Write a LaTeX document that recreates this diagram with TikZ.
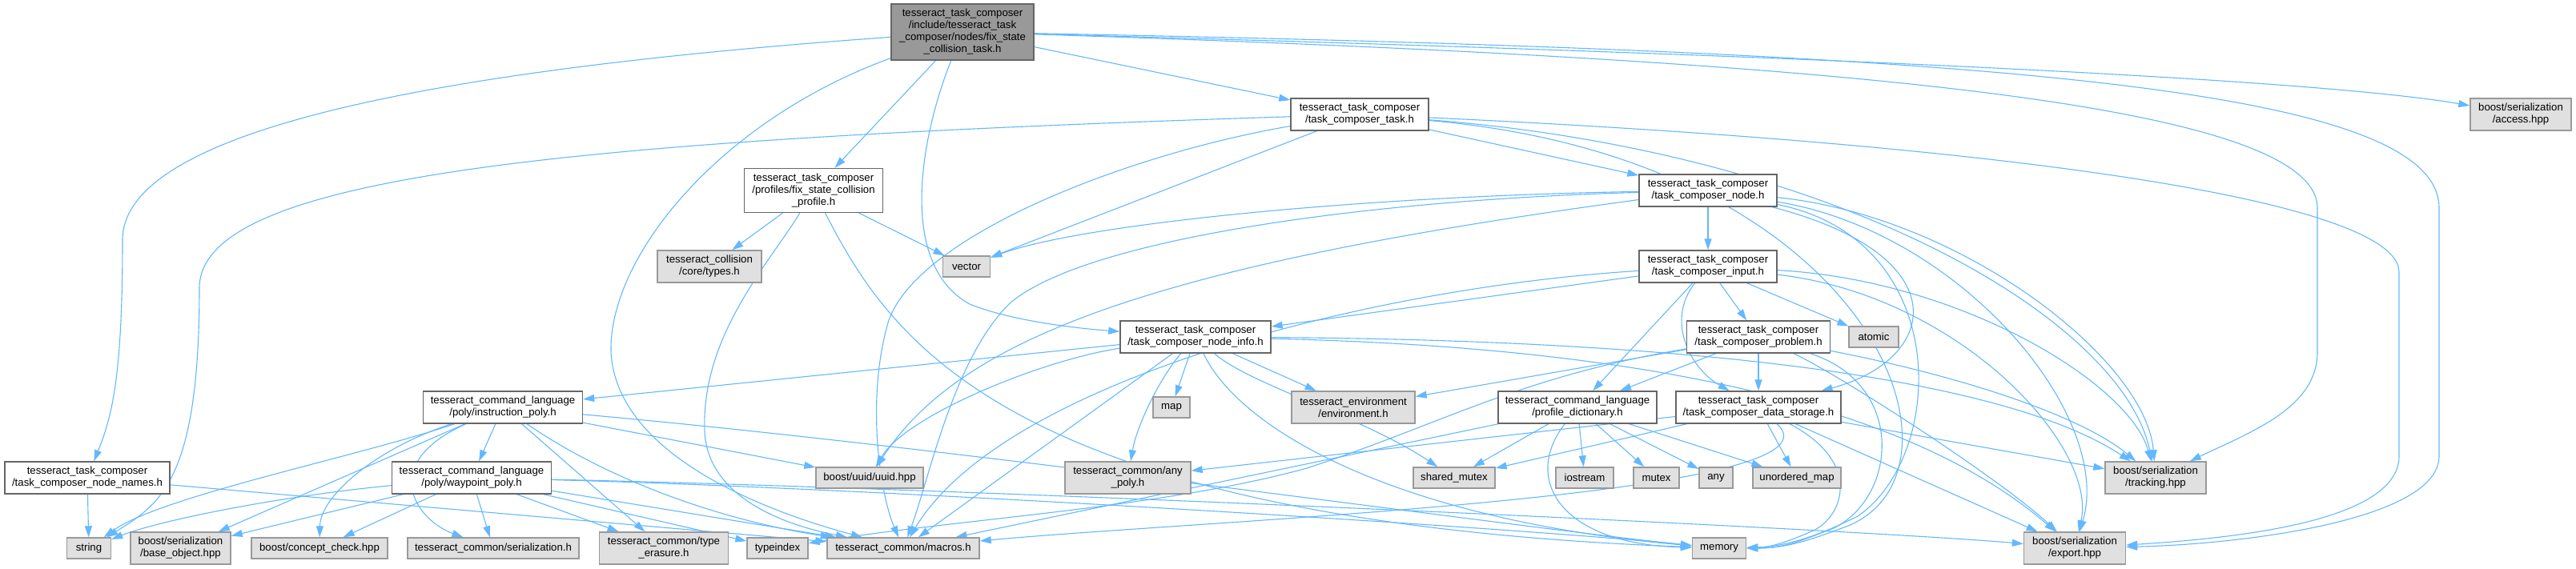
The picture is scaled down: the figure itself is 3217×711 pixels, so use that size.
\documentclass[tikz,border=0pt]{standalone}
\usepackage{fontspec}
\setmainfont{Liberation Sans}
\usetikzlibrary{arrows.meta,backgrounds}
\definecolor{edgec}{HTML}{63B8FF}
\definecolor{wborder}{HTML}{666666}
\definecolor{gfill}{HTML}{E0E0E0}
\definecolor{gborder}{HTML}{999999}
\definecolor{mfill}{HTML}{999999}
\tikzset{
  basebox/.style={rectangle, inner sep=0pt, align=center, line width=1.4pt,
    font=\fontsize{13.2}{15}\selectfont},
  wbox/.style={basebox, draw=wborder, fill=white},
  gbox/.style={basebox, draw=gborder, fill=gfill},
  mbox/.style={basebox, draw=wborder, fill=mfill},
  dep/.style={draw=edgec, line width=1.1pt, -{Triangle[length=14pt,width=9pt]}},
}
\newcommand{\us}{\_}
\begin{document}
\begin{tikzpicture}[x=1pt,y=-1pt]
\useasboundingbox (0,0) rectangle (3217,711);
% nodes
\node[mbox, minimum width=178, minimum height=70] (M) at (1202,40) {tesseract\us task\us composer\\/include/tesseract\us task\\\us composer/nodes/fix\us state\\\us collision\us task.h};
\node[wbox, minimum width=172, minimum height=40] (TCT) at (1698,143) {tesseract\us task\us composer\\/task\us composer\us task.h};
\node[wbox, minimum width=172, minimum height=40] (TCN) at (2133,238) {tesseract\us task\us composer\\/task\us composer\us node.h};
\node[wbox, minimum width=172, minimum height=40] (TCI) at (2133,333) {tesseract\us task\us composer\\/task\us composer\us input.h};
\node[wbox, minimum width=173, minimum height=55] (FSP) at (1016,238) {tesseract\us task\us composer\\/profiles/fix\us state\us collision\\\us profile.h};
\node[gbox, minimum width=130, minimum height=40] (CT) at (886,333) {tesseract\us collision\\/core/types.h};
\node[gbox, minimum width=59, minimum height=26] (VEC) at (1207,333) {vector};
\node[gbox, minimum width=126, minimum height=40] (ACC) at (3148,143) {boost/serialization\\/access.hpp};
\node[wbox, minimum width=206, minimum height=40] (TNN) at (109,597) {tesseract\us task\us composer\\/task\us composer\us node\us names.h};
\node[wbox, minimum width=199, minimum height=40] (IP) at (628,509) {tesseract\us command\us language\\/poly/instruction\us poly.h};
\node[wbox, minimum width=199, minimum height=40] (WP) at (589,597) {tesseract\us command\us language\\/poly/waypoint\us poly.h};
\node[gbox, minimum width=55, minimum height=26] (STR) at (111,685) {string};
\node[gbox, minimum width=125, minimum height=40] (BO) at (225.5,685) {boost/serialization\\/base\us object.hpp};
\node[gbox, minimum width=170, minimum height=26] (CC) at (399,685) {boost/concept\us check.hpp};
\node[gbox, minimum width=214, minimum height=26] (SER) at (616,685) {tesseract\us common/serialization.h};
\node[gbox, minimum width=161, minimum height=40] (TE) at (829,685) {tesseract\us common/type\\\us erasure.h};
\node[gbox, minimum width=76, minimum height=26] (TI) at (971,685) {typeindex};
\node[gbox, minimum width=190, minimum height=26] (MAC) at (1128,685) {tesseract\us common/macros.h};
\node[gbox, minimum width=134, minimum height=26] (UUID) at (1086,597) {boost/uuid/uuid.hpp};
\node[wbox, minimum width=188, minimum height=40] (TNI) at (1493,421) {tesseract\us task\us composer\\/task\us composer\us node\us info.h};
\node[gbox, minimum width=46, minimum height=26] (MAP) at (1463,509) {map};
\node[gbox, minimum width=154, minimum height=40] (ENV) at (1690,509) {tesseract\us environment\\/environment.h};
\node[gbox, minimum width=157, minimum height=40] (ANY) at (1408.5,597) {tesseract\us common/any\\\us poly.h};
\node[gbox, minimum width=102, minimum height=26] (SM) at (1816,597) {shared\us mutex};
\node[gbox, minimum width=72, minimum height=26] (IOS) at (1979,597) {iostream};
\node[gbox, minimum width=57, minimum height=26] (MTX) at (2068.5,597) {mutex};
\node[gbox, minimum width=42, minimum height=26] (ANYS) at (2143,597) {any};
\node[gbox, minimum width=110, minimum height=26] (UM) at (2244,597) {unordered\us map};
\node[wbox, minimum width=198, minimum height=40] (PD) at (1970,509) {tesseract\us command\us language\\/profile\us dictionary.h};
\node[wbox, minimum width=179, minimum height=40] (TCP) at (2196,421) {tesseract\us task\us composer\\/task\us composer\us problem.h};
\node[gbox, minimum width=62, minimum height=26] (ATM) at (2340,421) {atomic};
\node[wbox, minimum width=206, minimum height=40] (TDS) at (2196,509) {tesseract\us task\us composer\\/task\us composer\us data\us storage.h};
\node[gbox, minimum width=67, minimum height=26] (MEM) at (2147,685) {memory};
\node[gbox, minimum width=127, minimum height=40] (EXP) at (2591,685) {boost/serialization\\/export.hpp};
\node[gbox, minimum width=126, minimum height=40] (TRK) at (2692,597) {boost/serialization\\/tracking.hpp};
\begin{scope}[on background layer]
% edges from main
\draw[dep] (M) -- (FSP);
\draw[dep] (M) -- (TCT);
\draw[dep] (M) .. controls (500,90) and (153,170) .. (153,300) .. controls (153,470) and (140,520) .. (TNN);
\draw[dep] (M) .. controls (1150,170) and (1120,330) .. (1211,380) .. controls (1260,400) and (1340,410) .. (TNI);
\draw[dep] (M) .. controls (2300,70) and (2900,100) .. (ACC);
\draw[dep] (M) .. controls (2300,75) and (2894,130) .. (2894,260) -- (2894,440) .. controls (2894,510) and (2810,540) .. (TRK);
\draw[dep] (M) .. controls (2500,65) and (3046,110) .. (3046,260) -- (3046,570) .. controls (3046,650) and (2800,680) .. (EXP);
\draw[dep] (M) .. controls (900,150) and (760,320) .. (763,440) .. controls (770,570) and (960,640) .. (MAC);
% FSP
\draw[dep] (FSP) -- (CT);
\draw[dep] (FSP) -- (VEC);
\draw[dep] (FSP) .. controls (960,330) and (875,420) .. (880,540) .. controls (885,630) and (1000,660) .. (MAC);
\draw[dep] (FSP) .. controls (1110,420) and (1250,650) .. (MEM);
% TCT
\draw[dep] (TCT) -- (TCN);
\draw[dep] (TCT) -- (VEC);
\draw[dep] (TCT) .. controls (1420,190) and (1150,290) .. (1110,400) .. controls (1080,500) and (1100,620) .. (MAC);
\draw[dep] (TCT) .. controls (700,175) and (249,220) .. (249,360) .. controls (249,600) and (200,630) .. (STR);
\draw[dep] (TCT) .. controls (2300,190) and (2650,400) .. (TRK);
\draw[dep] (TCT) .. controls (2500,180) and (2996,250) .. (2996,340) -- (2996,570) .. controls (2996,650) and (2800,672) .. (EXP);
\draw[dep] (TCT) .. controls (2350,200) and (2480,600) .. (2300,660) .. controls (2260,675) and (2230,685) .. (MEM);
% TCN
\draw[dep] (TCN) -- (TCI);
\draw[dep] (TCN) .. controls (1700,245) and (1350,280) .. (VEC);
\draw[dep] (TCN) .. controls (1700,250) and (1350,300) .. (1260,380) .. controls (1190,450) and (1160,600) .. (MAC);
\draw[dep] (TCN) .. controls (1450,330) and (1200,420) .. (UUID);
\draw[dep] (TCN) .. controls (2450,320) and (2420,450) .. (TDS);
\draw[dep] (TCN) .. controls (2440,300) and (2430,570) .. (2320,645) .. controls (2270,670) and (2230,683) .. (MEM);
\draw[dep] (TCN) .. controls (2450,270) and (2680,450) .. (TRK);
\draw[dep] (TCN) .. controls (2450,290) and (2640,520) .. (EXP);
% TCI
\draw[dep] (TCI) -- (TNI);
\draw[dep] (TCI) -- (TCP);
\draw[dep] (TCI) -- (ATM);
\draw[dep] (TCI) .. controls (2080,400) and (2110,460) .. (TDS);
\draw[dep] (TCI) -- (PD);
\draw[dep] (TCI) .. controls (1700,360) and (1250,480) .. (MAC);
\draw[dep] (TCI) .. controls (2450,350) and (2660,480) .. (TRK);
\draw[dep] (TCI) .. controls (2450,370) and (2620,560) .. (EXP);
% TNI
\draw[dep] (TNI) -- (IP);
\draw[dep] (TNI) .. controls (1300,450) and (1130,520) .. (UUID);
\draw[dep] (TNI) -- (MAC);
\draw[dep] (TNI) .. controls (1450,470) and (1420,530) .. (ANY);
\draw[dep] (TNI) -- (MAP);
\draw[dep] (TNI) .. controls (1550,540) and (1750,650) .. (MEM);
\draw[dep] (TNI) .. controls (1560,480) and (1700,520) .. (SM);
\draw[dep] (TNI) -- (ENV);
\draw[dep] (TNI) .. controls (2100,425) and (2500,470) .. (TRK);
\draw[dep] (TNI) .. controls (2100,435) and (2400,520) .. (EXP);
% TCP
\draw[dep] (TCP) -- (ENV);
\draw[dep] (TCP) -- (PD);
\draw[dep] (TCP) -- (TDS);
\draw[dep] (TCP) .. controls (2450,470) and (2600,520) .. (TRK);
\draw[dep] (TCP) .. controls (2300,470) and (2500,600) .. (EXP);
\draw[dep] (TCP) .. controls (1900,470) and (1800,530) .. (1632,585) .. controls (1450,635) and (1200,648) .. (TI);
\draw[dep] (TCP) .. controls (2380,480) and (2370,620) .. (2290,660) .. controls (2250,675) and (2230,685) .. (MEM);
% TDS
\draw[dep] (TDS) -- (ANY);
\draw[dep] (TDS) -- (SM);
\draw[dep] (TDS) -- (UM);
\draw[dep] (TDS) .. controls (2330,580) and (2300,650) .. (2260,665) .. controls (2230,678) and (2210,684) .. (MEM);
\draw[dep] (TDS) -- (EXP);
\draw[dep] (TDS) -- (TRK);
\draw[dep] (TDS) .. controls (2320,620) and (1500,650) .. (MAC);
% PD
\draw[dep] (PD) -- (MAC);
\draw[dep] (PD) -- (SM);
\draw[dep] (PD) .. controls (1900,600) and (1950,680) .. (MEM);
\draw[dep] (PD) -- (IOS);
\draw[dep] (PD) -- (MTX);
\draw[dep] (PD) -- (ANYS);
\draw[dep] (PD) -- (UM);
% IP
\draw[dep] (IP) .. controls (450,570) and (200,620) .. (STR);
\draw[dep] (IP) -- (BO);
\draw[dep] (IP) .. controls (470,560) and (400,620) .. (CC);
\draw[dep] (IP) .. controls (470,580) and (520,650) .. (SER);
\draw[dep] (IP) -- (WP);
\draw[dep] (IP) -- (TE);
\draw[dep] (IP) .. controls (760,600) and (900,650) .. (MAC);
\draw[dep] (IP) -- (UUID);
\draw[dep] (IP) .. controls (1200,560) and (1900,660) .. (MEM);
% WP
\draw[dep] (WP) .. controls (350,620) and (200,650) .. (STR);
\draw[dep] (WP) -- (BO);
\draw[dep] (WP) -- (CC);
\draw[dep] (WP) -- (SER);
\draw[dep] (WP) -- (TE);
\draw[dep] (WP) -- (TI);
\draw[dep] (WP) -- (MAC);
\draw[dep] (WP) .. controls (1100,610) and (1900,660) .. (MEM);
\draw[dep] (WP) .. controls (1200,610) and (2300,660) .. (EXP);
% TNN
\draw[dep] (TNN) -- (STR);
\draw[dep] (TNN) -- (MAC);
\end{scope}
\end{tikzpicture}
\end{document}
